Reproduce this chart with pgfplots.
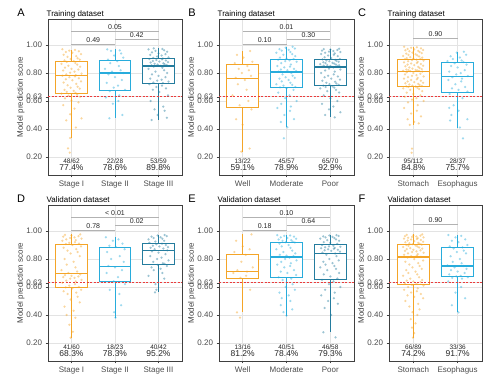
\documentclass[border=0pt]{standalone}
\usepackage{pgfplots}
\pgfplotsset{compat=1.18}
\usepackage{pgfplotstable}
\usepgfplotslibrary{statistics}
\usepackage{fontspec}
\setmainfont{Liberation Sans}
\definecolor{cO}{RGB}{244,165,40}
\definecolor{cB}{RGB}{40,172,220}
\definecolor{cT}{RGB}{36,124,158}
\definecolor{cR}{RGB}{235,60,60}

% ---------- jitter points (j = horizontal jitter, y = score) ----------
\pgfplotstableread[row sep=\\]{j y\\
-0.21 0.970\\ 0.08 0.965\\ -0.05 0.960\\ 0.17 0.955\\ -0.13 0.950\\ 0.02 0.945\\ 0.22 0.935\\ -0.18 0.930\\ 0.11 0.920\\ -0.09 0.915\\
0.14 0.905\\ -0.02 0.900\\ 0.19 0.895\\ -0.16 0.890\\ 0.05 0.885\\ -0.11 0.880\\ 0.09 0.872\\ -0.23 0.865\\ 0.13 0.860\\ -0.07 0.852\\
0.20 0.845\\ -0.15 0.838\\ 0.00 0.830\\ 0.16 0.825\\ -0.19 0.818\\ 0.07 0.810\\ -0.03 0.802\\ 0.23 0.795\\ -0.12 0.790\\ 0.10 0.785\\
-0.21 0.781\\ 0.08 0.776\\ -0.05 0.770\\ 0.17 0.762\\ -0.13 0.755\\ 0.02 0.748\\ 0.22 0.740\\ -0.18 0.732\\ 0.11 0.722\\ -0.09 0.712\\
0.14 0.702\\ -0.02 0.695\\ 0.19 0.688\\ -0.16 0.680\\ 0.05 0.672\\ -0.11 0.665\\ 0.09 0.658\\ -0.23 0.652\\ 0.13 0.645\\ -0.07 0.638\\
0.20 0.630\\ -0.15 0.618\\ 0.00 0.605\\ 0.16 0.590\\ -0.19 0.570\\ 0.07 0.545\\ -0.03 0.505\\ 0.23 0.475\\ -0.12 0.462\\ 0.10 0.410\\
-0.03 0.335\\ -0.08 0.262\\ -0.04 0.231\\
}\tAa
\pgfplotstableread[row sep=\\]{j y\\
-0.18 0.969\\ 0.11 0.962\\ -0.09 0.958\\ 0.14 0.94\\ -0.02 0.925\\ 0.19 0.91\\ -0.16 0.895\\ 0.05 0.885\\ -0.11 0.87\\ 0.09 0.85\\
-0.23 0.83\\ 0.13 0.82\\ -0.07 0.81\\ 0.20 0.80\\ -0.15 0.79\\ 0.00 0.77\\ 0.16 0.75\\ -0.19 0.73\\ 0.07 0.71\\ -0.03 0.695\\
0.23 0.68\\ -0.12 0.67\\ 0.10 0.64\\ -0.21 0.625\\ 0.08 0.60\\ -0.05 0.58\\ 0.17 0.50\\ -0.13 0.476\\
}\tAb
\pgfplotstableread[row sep=\\]{j y\\
-0.11 0.976\\ 0.09 0.972\\ -0.23 0.968\\ 0.13 0.962\\ -0.07 0.958\\ 0.20 0.952\\ -0.15 0.948\\ 0.00 0.94\\ 0.16 0.935\\ -0.19 0.93\\
0.07 0.925\\ -0.03 0.918\\ 0.23 0.912\\ -0.12 0.908\\ 0.10 0.904\\ -0.21 0.90\\ 0.08 0.897\\ -0.05 0.893\\ 0.17 0.89\\ -0.13 0.886\\
0.02 0.882\\ 0.22 0.878\\ -0.18 0.875\\ 0.11 0.87\\ -0.09 0.866\\ 0.14 0.862\\ -0.02 0.86\\ 0.19 0.857\\ -0.16 0.854\\ 0.05 0.851\\
-0.11 0.845\\ 0.09 0.838\\ -0.23 0.83\\ 0.13 0.82\\ -0.07 0.81\\ 0.20 0.80\\ -0.15 0.79\\ 0.00 0.78\\ 0.16 0.77\\ -0.19 0.76\\
0.07 0.752\\ -0.03 0.745\\ 0.23 0.738\\ -0.12 0.732\\ 0.10 0.728\\ -0.21 0.72\\ 0.08 0.71\\ -0.05 0.70\\ 0.17 0.69\\ -0.13 0.68\\
0.02 0.665\\ 0.22 0.64\\ -0.18 0.60\\ 0.11 0.56\\ -0.09 0.54\\ 0.14 0.53\\ -0.02 0.50\\ 0.19 0.48\\ -0.16 0.464\\
}\tAc
\pgfplotstableread[row sep=\\]{j y\\
0.17 0.957\\ -0.13 0.93\\ 0.02 0.91\\ 0.22 0.88\\ -0.18 0.87\\ 0.11 0.85\\ -0.09 0.83\\ 0.14 0.82\\ -0.02 0.80\\ 0.19 0.78\\
-0.16 0.765\\ 0.05 0.75\\ -0.11 0.72\\ 0.09 0.68\\ -0.23 0.64\\ 0.13 0.60\\ -0.07 0.57\\ 0.20 0.54\\ -0.15 0.47\\ 0.00 0.43\\
0.16 0.26\\ -0.03 0.238\\
}\tBa
\pgfplotstableread[row sep=\\]{j y\\
0.14 0.988\\ -0.02 0.98\\ 0.19 0.975\\ -0.16 0.97\\ 0.05 0.965\\ -0.11 0.96\\ 0.09 0.95\\ -0.23 0.945\\ 0.13 0.935\\ -0.07 0.93\\
0.20 0.92\\ -0.15 0.91\\ 0.00 0.905\\ 0.16 0.90\\ -0.19 0.895\\ 0.07 0.89\\ -0.03 0.885\\ 0.23 0.88\\ -0.12 0.87\\ 0.10 0.86\\
-0.21 0.85\\ 0.08 0.845\\ -0.05 0.84\\ 0.17 0.83\\ -0.13 0.825\\ 0.02 0.82\\ 0.22 0.815\\ -0.18 0.81\\ 0.11 0.80\\ -0.09 0.79\\
0.14 0.78\\ -0.02 0.77\\ 0.19 0.765\\ -0.16 0.76\\ 0.05 0.75\\ -0.11 0.74\\ 0.09 0.73\\ -0.23 0.72\\ 0.13 0.715\\ -0.07 0.71\\
0.20 0.70\\ -0.15 0.697\\ 0.00 0.69\\ 0.16 0.68\\ -0.19 0.66\\ 0.07 0.64\\ -0.03 0.62\\ 0.23 0.60\\ -0.12 0.58\\ 0.10 0.56\\
-0.21 0.55\\ 0.08 0.53\\ -0.05 0.50\\ 0.17 0.47\\ -0.13 0.45\\ 0.02 0.412\\ -0.06 0.333\\
}\tBb
\pgfplotstableread[row sep=\\]{j y\\
0.20 0.974\\ -0.15 0.97\\ 0.00 0.968\\ 0.16 0.965\\ -0.19 0.96\\ 0.07 0.957\\ -0.03 0.953\\ 0.23 0.95\\ -0.12 0.945\\ 0.10 0.94\\
-0.21 0.935\\ 0.08 0.93\\ -0.05 0.925\\ 0.17 0.92\\ -0.13 0.912\\ 0.02 0.906\\ 0.22 0.90\\ -0.18 0.897\\ 0.11 0.894\\ -0.09 0.89\\
0.14 0.887\\ -0.02 0.884\\ 0.19 0.88\\ -0.16 0.877\\ 0.05 0.873\\ -0.11 0.87\\ 0.09 0.867\\ -0.23 0.864\\ 0.13 0.86\\ -0.07 0.857\\
0.20 0.855\\ -0.15 0.852\\ 0.00 0.85\\ 0.16 0.848\\ -0.19 0.846\\ 0.07 0.84\\ -0.03 0.832\\ 0.23 0.825\\ -0.12 0.818\\ 0.10 0.81\\
-0.21 0.80\\ 0.08 0.79\\ -0.05 0.78\\ 0.17 0.775\\ -0.13 0.77\\ 0.02 0.76\\ 0.22 0.752\\ -0.18 0.745\\ 0.11 0.738\\ -0.09 0.73\\
0.14 0.725\\ -0.02 0.72\\ 0.19 0.716\\ -0.16 0.71\\ 0.05 0.705\\ -0.11 0.70\\ 0.09 0.695\\ -0.23 0.69\\ 0.13 0.68\\ -0.07 0.67\\
0.20 0.66\\ -0.15 0.64\\ 0.00 0.62\\ 0.16 0.60\\ -0.19 0.58\\ 0.07 0.56\\ -0.03 0.54\\ 0.23 0.52\\ -0.12 0.50\\ 0.10 0.483\\
}\tBc
\pgfplotstableread[row sep=\\]{j y\\
-0.21 0.988\\ 0.08 0.984\\ -0.05 0.98\\ 0.17 0.976\\ -0.13 0.972\\ 0.02 0.968\\ 0.22 0.965\\ -0.18 0.962\\ 0.11 0.958\\ -0.09 0.955\\
0.14 0.95\\ -0.02 0.946\\ 0.19 0.942\\ -0.16 0.938\\ 0.05 0.934\\ -0.11 0.93\\ 0.09 0.926\\ -0.23 0.922\\ 0.13 0.918\\ -0.07 0.914\\
0.20 0.91\\ -0.15 0.907\\ 0.00 0.904\\ 0.16 0.901\\ -0.19 0.899\\ 0.07 0.896\\ -0.03 0.892\\ 0.23 0.888\\ -0.12 0.884\\ 0.10 0.88\\
-0.21 0.876\\ 0.08 0.872\\ -0.05 0.868\\ 0.17 0.864\\ -0.13 0.86\\ 0.02 0.856\\ 0.22 0.852\\ -0.18 0.848\\ 0.11 0.844\\ -0.09 0.84\\
0.14 0.836\\ -0.02 0.832\\ 0.19 0.828\\ -0.16 0.825\\ 0.05 0.822\\ -0.11 0.82\\ 0.09 0.818\\ -0.23 0.816\\ 0.13 0.814\\ -0.07 0.813\\
0.20 0.81\\ -0.15 0.805\\ 0.00 0.80\\ 0.16 0.795\\ -0.19 0.79\\ 0.07 0.785\\ -0.03 0.78\\ 0.23 0.775\\ -0.12 0.77\\ 0.10 0.765\\
-0.21 0.76\\ 0.08 0.755\\ -0.05 0.75\\ 0.17 0.745\\ -0.13 0.74\\ 0.02 0.735\\ 0.22 0.73\\ -0.18 0.726\\ 0.11 0.722\\ -0.09 0.718\\
0.14 0.714\\ -0.02 0.71\\ 0.19 0.707\\ -0.16 0.705\\ 0.05 0.703\\ -0.11 0.70\\ 0.09 0.695\\ -0.23 0.69\\ 0.13 0.685\\ -0.07 0.68\\
0.20 0.67\\ -0.15 0.66\\ 0.00 0.65\\ 0.16 0.64\\ -0.19 0.63\\ 0.07 0.62\\ -0.03 0.61\\ 0.23 0.60\\ -0.12 0.59\\ 0.10 0.57\\
-0.21 0.55\\ 0.08 0.53\\ -0.05 0.51\\ 0.17 0.49\\ -0.13 0.47\\ 0.02 0.45\\ 0.12 0.44\\ -0.08 0.429\\ -0.03 0.26\\ -0.04 0.23\\
}\tCa
\pgfplotstableread[row sep=\\]{j y\\
0.14 0.952\\ -0.02 0.945\\ 0.19 0.93\\ -0.16 0.92\\ 0.05 0.91\\ -0.11 0.90\\ 0.09 0.89\\ -0.23 0.885\\ 0.13 0.878\\ -0.07 0.87\\
0.20 0.86\\ -0.15 0.85\\ 0.00 0.84\\ 0.16 0.82\\ -0.19 0.81\\ 0.07 0.80\\ -0.03 0.79\\ 0.23 0.778\\ -0.12 0.77\\ 0.10 0.76\\
-0.21 0.75\\ 0.08 0.74\\ -0.05 0.72\\ 0.17 0.70\\ -0.13 0.69\\ 0.02 0.68\\ 0.22 0.667\\ -0.18 0.65\\ 0.11 0.62\\ -0.09 0.57\\
-0.19 0.55\\ 0.02 0.53\\ -0.14 0.50\\ 0.22 0.47\\ -0.17 0.46\\ 0.05 0.41\\ 0.12 0.333\\
}\tCb
\pgfplotstableread[row sep=\\]{j y\\
0.20 0.976\\ -0.15 0.972\\ 0.00 0.968\\ 0.16 0.964\\ -0.19 0.96\\ 0.07 0.955\\ -0.03 0.95\\ 0.23 0.945\\ -0.12 0.94\\ 0.10 0.935\\
-0.21 0.93\\ 0.08 0.92\\ -0.05 0.915\\ 0.17 0.91\\ -0.13 0.907\\ 0.02 0.90\\ 0.22 0.89\\ -0.18 0.88\\ 0.11 0.87\\ -0.09 0.86\\
0.14 0.85\\ -0.02 0.84\\ 0.19 0.82\\ -0.16 0.80\\ 0.05 0.78\\ -0.11 0.76\\ 0.09 0.74\\ -0.23 0.72\\ 0.13 0.71\\ -0.07 0.70\\
0.20 0.69\\ -0.15 0.685\\ 0.00 0.68\\ 0.16 0.675\\ -0.19 0.67\\ 0.07 0.665\\ -0.03 0.66\\ 0.23 0.65\\ -0.12 0.645\\ 0.10 0.64\\
-0.21 0.63\\ 0.08 0.62\\ -0.05 0.61\\ 0.17 0.60\\ -0.13 0.597\\ 0.02 0.59\\ 0.22 0.58\\ -0.18 0.57\\ 0.11 0.56\\ -0.09 0.55\\
0.14 0.53\\ -0.02 0.51\\ 0.19 0.49\\ -0.16 0.46\\ 0.05 0.43\\ -0.11 0.40\\ 0.09 0.38\\ -0.05 0.33\\ 0.03 0.28\\ -0.02 0.238\\
}\tDa
\pgfplotstableread[row sep=\\]{j y\\
-0.21 0.955\\ 0.08 0.94\\ -0.05 0.93\\ 0.17 0.91\\ -0.13 0.895\\ 0.02 0.885\\ 0.22 0.87\\ -0.18 0.85\\ 0.11 0.82\\ -0.09 0.80\\
0.20 0.78\\ -0.15 0.75\\ 0.00 0.74\\ 0.16 0.72\\ -0.19 0.70\\ 0.07 0.67\\ -0.03 0.64\\ 0.23 0.62\\ -0.12 0.58\\ 0.10 0.55\\
0.14 0.47\\ -0.02 0.42\\ 0.01 0.381\\
}\tDb
\pgfplotstableread[row sep=\\]{j y\\
0.14 0.971\\ -0.02 0.968\\ 0.19 0.964\\ -0.16 0.96\\ 0.05 0.955\\ -0.11 0.95\\ 0.09 0.945\\ -0.23 0.94\\ 0.13 0.93\\ -0.07 0.925\\
-0.21 0.917\\ 0.08 0.91\\ -0.05 0.905\\ 0.17 0.90\\ -0.13 0.895\\ 0.02 0.89\\ 0.22 0.885\\ -0.18 0.88\\ 0.11 0.875\\ -0.09 0.87\\
0.20 0.862\\ -0.15 0.855\\ 0.00 0.845\\ 0.16 0.835\\ -0.19 0.82\\ 0.07 0.81\\ -0.03 0.80\\ 0.23 0.79\\ -0.12 0.78\\ 0.10 0.77\\
0.14 0.765\\ -0.02 0.758\\ 0.19 0.75\\ -0.16 0.74\\ 0.05 0.73\\ -0.11 0.72\\ 0.09 0.70\\ -0.23 0.68\\ 0.13 0.66\\ -0.07 0.62\\
-0.05 0.58\\ -0.08 0.562\\
}\tDc
\pgfplotstableread[row sep=\\]{j y\\
0.20 0.976\\ -0.15 0.93\\ 0.00 0.89\\ 0.16 0.87\\ -0.19 0.85\\ 0.07 0.83\\ -0.03 0.78\\ 0.23 0.74\\ -0.12 0.72\\ 0.10 0.71\\
-0.21 0.70\\ 0.08 0.68\\ -0.05 0.665\\ 0.17 0.58\\ -0.13 0.419\\ -0.06 0.381\\
}\tEa
\pgfplotstableread[row sep=\\]{j y\\
-0.21 0.971\\ 0.08 0.968\\ -0.05 0.965\\ 0.17 0.96\\ -0.13 0.955\\ 0.02 0.95\\ 0.22 0.945\\ -0.18 0.94\\ 0.11 0.935\\ -0.09 0.93\\
0.14 0.925\\ -0.02 0.92\\ 0.19 0.918\\ -0.16 0.91\\ 0.05 0.90\\ -0.11 0.89\\ 0.09 0.88\\ -0.23 0.87\\ 0.13 0.86\\ -0.07 0.85\\
0.20 0.84\\ -0.15 0.83\\ 0.00 0.825\\ 0.16 0.82\\ -0.19 0.815\\ 0.07 0.81\\ -0.03 0.80\\ 0.23 0.79\\ -0.12 0.78\\ 0.10 0.77\\
-0.21 0.76\\ 0.08 0.75\\ -0.05 0.74\\ 0.17 0.72\\ -0.13 0.71\\ 0.02 0.70\\ 0.22 0.685\\ -0.18 0.67\\ 0.11 0.66\\ -0.09 0.65\\
0.14 0.62\\ -0.02 0.60\\ 0.19 0.58\\ -0.16 0.56\\ 0.05 0.54\\ -0.11 0.52\\ 0.09 0.50\\ -0.13 0.47\\ 0.13 0.44\\ -0.07 0.42\\
0.00 0.395\\
}\tEb
\pgfplotstableread[row sep=\\]{j y\\
0.14 0.971\\ -0.02 0.968\\ 0.19 0.965\\ -0.16 0.962\\ 0.05 0.958\\ -0.11 0.955\\ 0.09 0.95\\ -0.23 0.945\\ 0.13 0.94\\ -0.07 0.935\\
0.20 0.93\\ -0.15 0.92\\ 0.00 0.915\\ 0.16 0.908\\ -0.19 0.90\\ 0.07 0.895\\ -0.03 0.89\\ 0.23 0.887\\ -0.12 0.884\\ 0.10 0.88\\
-0.21 0.877\\ 0.08 0.873\\ -0.05 0.87\\ 0.17 0.866\\ -0.13 0.862\\ 0.02 0.858\\ 0.22 0.852\\ -0.18 0.846\\ 0.11 0.84\\ -0.09 0.83\\
0.14 0.82\\ -0.02 0.80\\ 0.19 0.79\\ -0.16 0.78\\ 0.05 0.77\\ -0.11 0.76\\ 0.09 0.75\\ -0.23 0.74\\ 0.13 0.73\\ -0.07 0.72\\
0.20 0.70\\ -0.15 0.69\\ 0.00 0.675\\ 0.16 0.66\\ -0.19 0.65\\ 0.07 0.64\\ -0.03 0.62\\ 0.23 0.60\\ -0.12 0.58\\ 0.10 0.56\\
-0.21 0.54\\ 0.08 0.52\\ -0.05 0.50\\ 0.17 0.48\\ -0.13 0.45\\ 0.02 0.40\\ -0.16 0.276\\ 0.12 0.24\\
}\tEc
\pgfplotstableread[row sep=\\]{j y\\
0.20 0.976\\ -0.15 0.973\\ 0.00 0.97\\ 0.16 0.967\\ -0.19 0.964\\ 0.07 0.961\\ -0.03 0.958\\ 0.23 0.955\\ -0.12 0.952\\ 0.10 0.949\\
-0.21 0.946\\ 0.08 0.943\\ -0.05 0.94\\ 0.17 0.936\\ -0.13 0.932\\ 0.02 0.928\\ 0.22 0.924\\ -0.18 0.92\\ 0.11 0.916\\ -0.09 0.912\\
0.14 0.909\\ -0.02 0.906\\ 0.19 0.903\\ -0.16 0.90\\ 0.05 0.897\\ -0.11 0.894\\ 0.09 0.89\\ -0.23 0.886\\ 0.13 0.882\\ -0.07 0.878\\
0.20 0.874\\ -0.15 0.87\\ 0.00 0.866\\ 0.16 0.862\\ -0.19 0.858\\ 0.07 0.854\\ -0.03 0.85\\ 0.23 0.845\\ -0.12 0.84\\ 0.10 0.835\\
-0.21 0.83\\ 0.08 0.825\\ -0.05 0.82\\ 0.17 0.816\\ -0.13 0.81\\ 0.02 0.80\\ 0.22 0.79\\ -0.18 0.78\\ 0.11 0.77\\ -0.09 0.76\\
0.14 0.75\\ -0.02 0.74\\ 0.19 0.73\\ -0.16 0.72\\ 0.05 0.71\\ -0.11 0.70\\ 0.09 0.69\\ -0.23 0.68\\ 0.13 0.67\\ -0.07 0.66\\
0.20 0.65\\ -0.15 0.645\\ 0.00 0.64\\ 0.16 0.635\\ -0.19 0.628\\ 0.07 0.622\\ -0.03 0.615\\ 0.23 0.61\\ -0.12 0.60\\ 0.10 0.59\\
-0.21 0.58\\ 0.08 0.57\\ -0.05 0.56\\ 0.17 0.55\\ -0.13 0.54\\ 0.02 0.53\\ 0.22 0.52\\ -0.18 0.50\\ 0.11 0.48\\ -0.09 0.46\\
0.14 0.44\\ -0.02 0.42\\ 0.09 0.40\\ -0.06 0.37\\ 0.05 0.34\\ -0.03 0.31\\ 0.02 0.27\\ -0.01 0.238\\
}\tFa
\pgfplotstableread[row sep=\\]{j y\\
-0.21 0.971\\ 0.08 0.965\\ -0.05 0.955\\ 0.17 0.94\\ -0.13 0.93\\ 0.02 0.92\\ 0.22 0.90\\ -0.18 0.89\\ 0.11 0.883\\ -0.09 0.875\\
0.14 0.86\\ -0.02 0.85\\ 0.19 0.84\\ -0.16 0.82\\ 0.05 0.80\\ -0.11 0.78\\ 0.09 0.77\\ -0.23 0.755\\ 0.13 0.75\\ -0.07 0.74\\
0.20 0.73\\ -0.15 0.72\\ 0.00 0.71\\ 0.16 0.70\\ -0.19 0.69\\ 0.07 0.68\\ -0.03 0.676\\ 0.23 0.67\\ -0.12 0.665\\ 0.10 0.66\\
-0.21 0.64\\ 0.08 0.60\\ -0.05 0.56\\ 0.17 0.52\\ -0.13 0.47\\ 0.02 0.419\\
}\tFb

% ---------- styles and helpers ----------
\pgfplotsset{
  panel/.style={
    scale only axis, height=156pt,
    ymin=0.071, ymax=1.186,
    ytick={0.2,0.4,0.6,0.63,0.8,1.0},
    yticklabels={0.20,0.40,0.60,0.63,0.80,1.00},
    ymajorgrids, xmajorgrids,
    major grid style={draw=black!11, line width=0.6pt},
    axis line style={draw=black!75, line width=0.7pt},
    tick style={draw=black!75, line width=0.5pt},
    tick align=outside, tick pos=left, major tick length=2.5pt,
    ticklabel style={font=\fontsize{8}{9}\selectfont, text=black!70},
    ylabel={Model prediction score},
    ylabel style={font=\fontsize{8}{9}\selectfont, text=black!75, yshift=-5pt},
    clip=false,
    boxplot/draw direction=y,
    boxplot/every median/.style={line width=1.6pt},
  },
  pts/.style={only marks, mark=*, mark size=1.25pt, color=#1,
    mark options={draw opacity=0, fill=#1, fill opacity=0.45}},
  brk/.style={draw=black!30, line width=0.9pt},
}
\newcommand{\bx}[7]{\addplot[boxplot prepared={draw position=#1,
   lower whisker=#2, lower quartile=#3, median=#4, upper quartile=#5,
   upper whisker=#6, box extend=0.72, whisker extend=0},
   draw=#7, fill=white, line width=0.8pt, solid] coordinates {};}
\newcommand{\brkt}[5]{\addplot[brk] coordinates {(#1,#3) (#2,#3)};
  \node[font=\fontsize{7}{8}\selectfont, anchor=south, inner sep=1.2pt, text=black!85] at (axis cs:#4,#3) {#5};}
\newcommand{\ann}[3]{\node[font=\fontsize{6.5}{7}\selectfont, text=black!85] at (axis cs:#1,0.167) {#2};
  \node[font=\fontsize{8.5}{9}\selectfont, text=black!85] at (axis cs:#1,0.121) {#3};}
\newcommand{\hdr}[2]{\node[anchor=west, font=\fontsize{8}{9}\selectfont, inner sep=0pt, xshift=-1.5pt, yshift=5pt] at (rel axis cs:0,1) {#2};
  \node[font=\fontsize{11}{12}\selectfont, inner sep=0pt, xshift=-27pt, yshift=6pt] at (rel axis cs:0,1) {#1};}

\begin{document}
\begin{tikzpicture}
\path[use as bounding box] (0,0) rectangle (500pt,377pt);

% ===== A =====
\begin{axis}[panel, at={(48pt,202pt)}, anchor=south west, width=134pt,
  xmin=0.46, xmax=3.54, xtick={1,2,3}, xticklabels={Stage I,Stage II,Stage III}]
\bx{1}{0.333}{0.655}{0.781}{0.883}{0.965}{cO}
\bx{2}{0.476}{0.679}{0.802}{0.893}{0.969}{cB}
\bx{3}{0.464}{0.726}{0.850}{0.902}{0.976}{cT}
\addplot[cR, line width=0.6pt, dash pattern=on 2pt off 1.5pt] coordinates {(0.46,0.63) (3.54,0.63)};
\addplot[pts=cO] table[x expr=\thisrow{j}+1, y=y] {\tAa};
\addplot[pts=cB] table[x expr=\thisrow{j}+2, y=y] {\tAb};
\addplot[pts=cT] table[x expr=\thisrow{j}+3, y=y] {\tAc};
\brkt{1}{2}{1.005}{1.5}{0.49}
\brkt{2}{3}{1.042}{2.5}{0.42}
\brkt{1}{3}{1.100}{2}{0.05}
\ann{1}{48/62}{77.4\%}
\ann{2}{22/28}{78.6\%}
\ann{3}{53/59}{89.8\%}
\hdr{A}{Training dataset}
\end{axis}

% ===== B =====
\begin{axis}[panel, at={(219pt,202pt)}, anchor=south west, width=135pt,
  xmin=0.46, xmax=3.54, xtick={1,2,3}, xticklabels={Well,Moderate,Poor}]
\bx{1}{0.238}{0.555}{0.760}{0.862}{0.957}{cO}
\bx{2}{0.412}{0.695}{0.807}{0.898}{0.988}{cB}
\bx{3}{0.483}{0.714}{0.845}{0.898}{0.974}{cT}
\addplot[cR, line width=0.6pt, dash pattern=on 2pt off 1.5pt] coordinates {(0.46,0.63) (3.54,0.63)};
\addplot[pts=cO] table[x expr=\thisrow{j}+1, y=y] {\tBa};
\addplot[pts=cB] table[x expr=\thisrow{j}+2, y=y] {\tBb};
\addplot[pts=cT] table[x expr=\thisrow{j}+3, y=y] {\tBc};
\brkt{1}{2}{1.005}{1.5}{0.10}
\brkt{2}{3}{1.042}{2.5}{0.30}
\brkt{1}{3}{1.100}{2}{0.01}
\ann{1}{13/22}{59.1\%}
\ann{2}{45/57}{78.9\%}
\ann{3}{65/70}{92.9\%}
\hdr{B}{Training dataset}
\end{axis}

% ===== C =====
\begin{axis}[panel, at={(389pt,202pt)}, anchor=south west, width=93pt,
  xmin=0.45, xmax=2.55, xtick={1,2}, xticklabels={Stomach,Esophagus}]
\bx{1}{0.429}{0.702}{0.812}{0.898}{0.988}{cO}
\bx{2}{0.410}{0.664}{0.774}{0.876}{0.952}{cB}
\addplot[cR, line width=0.6pt, dash pattern=on 2pt off 1.5pt] coordinates {(0.45,0.63) (2.55,0.63)};
\addplot[pts=cO] table[x expr=\thisrow{j}+1, y=y] {\tCa};
\addplot[pts=cB] table[x expr=\thisrow{j}+2, y=y] {\tCb};
\brkt{1}{2}{1.048}{1.5}{0.90}
\ann{1}{95/112}{84.8\%}
\ann{2}{28/37}{75.7\%}
\hdr{C}{Training dataset}
\end{axis}

% ===== D =====
\begin{axis}[panel, at={(48pt,16pt)}, anchor=south west, width=134pt,
  xmin=0.46, xmax=3.54, xtick={1,2,3}, xticklabels={Stage I,Stage II,Stage III}]
\bx{1}{0.238}{0.595}{0.695}{0.905}{0.976}{cO}
\bx{2}{0.381}{0.638}{0.745}{0.883}{0.955}{cB}
\bx{3}{0.562}{0.762}{0.860}{0.914}{0.971}{cT}
\addplot[cR, line width=0.6pt, dash pattern=on 2pt off 1.5pt] coordinates {(0.46,0.63) (3.54,0.63)};
\addplot[pts=cO] table[x expr=\thisrow{j}+1, y=y] {\tDa};
\addplot[pts=cB] table[x expr=\thisrow{j}+2, y=y] {\tDb};
\addplot[pts=cT] table[x expr=\thisrow{j}+3, y=y] {\tDc};
\brkt{1}{2}{1.007}{1.5}{0.78}
\brkt{2}{3}{1.043}{2.5}{0.02}
\brkt{1}{3}{1.098}{2}{< 0.01}
\ann{1}{41/60}{68.3\%}
\ann{2}{18/23}{78.3\%}
\ann{3}{40/42}{95.2\%}
\hdr{D}{Validation dataset}
\end{axis}

% ===== E =====
\begin{axis}[panel, at={(219pt,16pt)}, anchor=south west, width=135pt,
  xmin=0.46, xmax=3.54, xtick={1,2,3}, xticklabels={Well,Moderate,Poor}]
\bx{1}{0.419}{0.662}{0.710}{0.833}{0.976}{cO}
\bx{2}{0.395}{0.667}{0.814}{0.917}{0.971}{cB}
\bx{3}{0.276}{0.657}{0.838}{0.905}{0.971}{cT}
\addplot[cR, line width=0.6pt, dash pattern=on 2pt off 1.5pt] coordinates {(0.46,0.63) (3.54,0.63)};
\addplot[pts=cO] table[x expr=\thisrow{j}+1, y=y] {\tEa};
\addplot[pts=cB] table[x expr=\thisrow{j}+2, y=y] {\tEb};
\addplot[pts=cT] table[x expr=\thisrow{j}+3, y=y] {\tEc};
\brkt{1}{2}{1.007}{1.5}{0.18}
\brkt{2}{3}{1.043}{2.5}{0.64}
\brkt{1}{3}{1.098}{2}{0.10}
\ann{1}{13/16}{81.2\%}
\ann{2}{40/51}{78.4\%}
\ann{3}{46/58}{79.3\%}
\hdr{E}{Validation dataset}
\end{axis}

% ===== F =====
\begin{axis}[panel, at={(389pt,16pt)}, anchor=south west, width=93pt,
  xmin=0.45, xmax=2.55, xtick={1,2}, xticklabels={Stomach,Esophagus}]
\bx{1}{0.238}{0.619}{0.814}{0.905}{0.976}{cO}
\bx{2}{0.419}{0.674}{0.752}{0.881}{0.971}{cB}
\addplot[cR, line width=0.6pt, dash pattern=on 2pt off 1.5pt] coordinates {(0.45,0.63) (2.55,0.63)};
\addplot[pts=cO] table[x expr=\thisrow{j}+1, y=y] {\tFa};
\addplot[pts=cB] table[x expr=\thisrow{j}+2, y=y] {\tFb};
\brkt{1}{2}{1.048}{1.5}{0.90}
\ann{1}{66/89}{74.2\%}
\ann{2}{33/36}{91.7\%}
\hdr{F}{Validation dataset}
\end{axis}
\end{tikzpicture}
\end{document}
